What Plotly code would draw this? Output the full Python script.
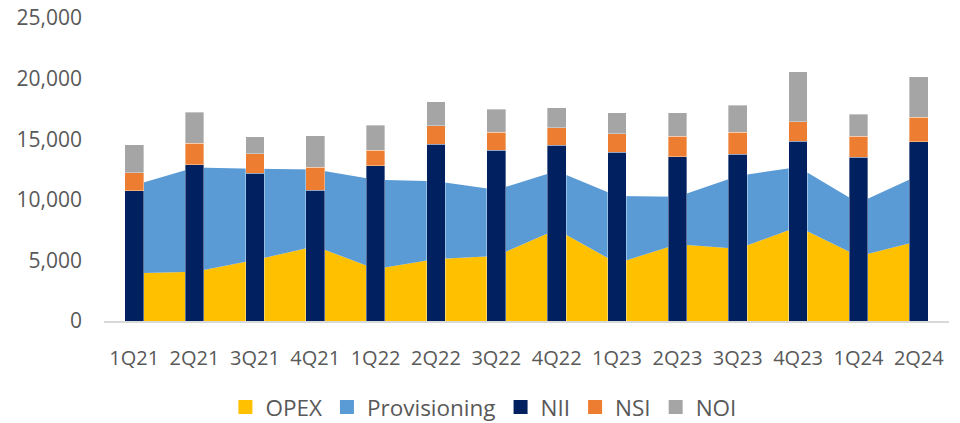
import plotly.graph_objects as go

quarters = ["1Q21", "2Q21", "3Q21", "4Q21", "1Q22", "2Q22", "3Q22", "4Q22",
            "1Q23", "2Q23", "3Q23", "4Q23", "1Q24", "2Q24"]
opex = [3950, 4065, 5030, 6170, 4290, 5120, 5370, 7550, 4770, 6330, 5955, 7780, 5345, 6610]
provisioning = [7250, 8595, 7530, 6320, 7370, 6405, 5450, 4820, 5550, 3930, 6015, 4920, 4395, 5420]
nii = [10750, 12900, 12200, 10800, 12800, 14600, 14070, 14500, 13930, 13550, 13770, 14840, 13520, 14810]
nsi = [1470, 1750, 1600, 1870, 1270, 1520, 1490, 1460, 1510, 1680, 1790, 1620, 1730, 2010]
noi = [2340, 2560, 1400, 2620, 2090, 1950, 1930, 1620, 1740, 1950, 2230, 4100, 1820, 3330]

C_OPEX = "#FFC000"
C_PROV = "#5B9BD5"
C_NII = "#002060"
C_NSI = "#ED7D31"
C_NOI = "#A5A5A5"
FONT = "Open Sans"
TXT = "#595959"

fig = go.Figure()

# stacked areas on the base y axis
fig.add_trace(go.Scatter(x=quarters, y=opex, name="OPEX", stackgroup="exp",
                         mode="lines", line=dict(width=0, color=C_OPEX),
                         fillcolor=C_OPEX, showlegend=False, hoverinfo="y+name"))
fig.add_trace(go.Scatter(x=quarters, y=provisioning, name="Provisioning", stackgroup="exp",
                         mode="lines", line=dict(width=0, color=C_PROV),
                         fillcolor=C_PROV, showlegend=False, hoverinfo="y+name"))

# stacked bars on an overlaying axis so they sit above the areas
for name, vals, col in [("NII", nii, C_NII), ("NSI", nsi, C_NSI), ("NOI", noi, C_NOI)]:
    fig.add_trace(go.Bar(x=quarters, y=vals, name=name, width=0.31, yaxis="y2",
                         marker=dict(color=col, line=dict(color="rgba(255,255,255,0.6)", width=0.6)),
                         showlegend=False))

# legend entries (square swatches)
for name, col in [("OPEX", C_OPEX), ("Provisioning", C_PROV), ("NII", C_NII),
                  ("NSI", C_NSI), ("NOI", C_NOI)]:
    fig.add_trace(go.Scatter(x=[None], y=[None], mode="markers", name=name,
                             marker=dict(symbol="square", size=14, color=col),
                             showlegend=True))

fig.update_layout(
    width=960, height=423,
    barmode="stack",
    plot_bgcolor="white", paper_bgcolor="white",
    margin=dict(l=104, r=11, t=18, b=102, autoexpand=False),
    font=dict(family=FONT, color=TXT, size=20),
    showlegend=True,
    legend=dict(orientation="h", x=0.449, xanchor="center", y=-0.285, yanchor="middle",
                font=dict(size=22.5, color=TXT, family=FONT), itemsizing="trace",
                traceorder="normal"),
    xaxis=dict(type="category", range=[-0.5, 13.5], showline=True, linecolor="#D9D9D9",
               linewidth=1.5, showgrid=False, ticks="", tickfont=dict(size=20, color=TXT),
               ticklabelstandoff=18, automargin=False),
    yaxis=dict(range=[0, 25000], dtick=5000, tickformat=",", showgrid=False,
               zeroline=False, showline=False, ticks="", tickfont=dict(size=21, color=TXT),
               ticklabelstandoff=21, automargin=False),
    yaxis2=dict(range=[0, 25000], overlaying="y", visible=False, showgrid=False,
                zeroline=False, automargin=False),
)

fig.write_html("out.html", config={"displayModeBar": False},
               post_script="document.body.style.margin='0';document.body.style.overflow='hidden';")
